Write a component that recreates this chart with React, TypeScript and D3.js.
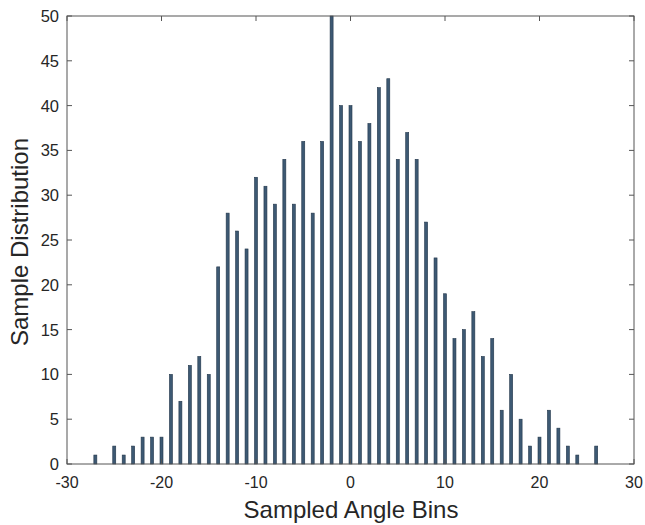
import React from "react";
import * as d3 from "d3";

const bins: number[] = [-27,-26,-25,-24,-23,-22,-21,-20,-19,-18,-17,-16,-15,-14,-13,-12,-11,-10,-9,-8,-7,-6,-5,-4,-3,-2,-1,0,1,2,3,4,5,6,7,8,9,10,11,12,13,14,15,16,17,18,19,20,21,22,23,24,25,26];
const counts: number[] = [1,0,2,1,2,3,3,3,10,7,11,12,10,22,28,26,24,32,31,29,34,29,36,28,36,50,40,40,36,38,42,43,34,37,34,27,23,19,14,15,17,12,14,6,10,5,2,3,6,4,2,1,0,2];
const xTicks: number[] = [-30,-20,-10,0,10,20,30];
const yTicks: number[] = [0,5,10,15,20,25,30,35,40,45,50];
const xLabel = "Sampled Angle Bins";
const yLabel = "Sample Distribution";

export default function App() {
  const W = 645, H = 525;
  const left = 67, right = 634, top = 16, bottom = 464;
  const x = d3.scaleLinear().domain([-30, 30]).range([left, right]);
  const y = d3.scaleLinear().domain([0, 50]).range([bottom, top]);
  const barW = 3;
  const axisColor = "#555555";
  const textColor = "#262626";
  const font = "'Liberation Sans', Arial, Helvetica, sans-serif";
  const tickLen = 5;
  return (
    <svg width={W} height={H} style={{ position: "absolute", left: 0, top: 0, background: "#fff" }}>
      <rect x={0} y={0} width={W} height={H} fill="#fff" />
      {bins.map((b, i) =>
        counts[i] > 0 ? (
          <rect
            key={b}
            x={x(b) - barW / 2}
            y={y(Math.min(counts[i], 50))}
            width={barW}
            height={y(0) - y(Math.min(counts[i], 50))}
            fill="#3d5973"
            stroke="#22364a"
            strokeWidth={0.6}
          />
        ) : null
      )}
      <rect x={left} y={top} width={right - left} height={bottom - top} fill="none" stroke={axisColor} strokeWidth={1} />
      {xTicks.map((t) => (
        <g key={"x" + t}>
          <line x1={x(t)} x2={x(t)} y1={bottom} y2={bottom - tickLen} stroke={axisColor} />
          <line x1={x(t)} x2={x(t)} y1={top} y2={top + tickLen} stroke={axisColor} />
          <text x={x(t)} y={488} textAnchor="middle" fontSize={16} fill={textColor} fontFamily={font}>
            {t}
          </text>
        </g>
      ))}
      {yTicks.map((t) => (
        <g key={"y" + t}>
          <line x1={left} x2={left + tickLen} y1={y(t)} y2={y(t)} stroke={axisColor} />
          <line x1={right} x2={right - tickLen} y1={y(t)} y2={y(t)} stroke={axisColor} />
          <text x={59} y={y(t) + 6} textAnchor="end" fontSize={16.5} fill={textColor} fontFamily={font}>
            {t}
          </text>
        </g>
      ))}
      <text x={351} y={518} textAnchor="middle" fontSize={24} fill={textColor} fontFamily={font}>
        {xLabel}
      </text>
      <text
        transform={`translate(28, 242) rotate(-90)`}
        textAnchor="middle"
        fontSize={24}
        fill={textColor}
        fontFamily={font}
      >
        {yLabel}
      </text>
    </svg>
  );
}
